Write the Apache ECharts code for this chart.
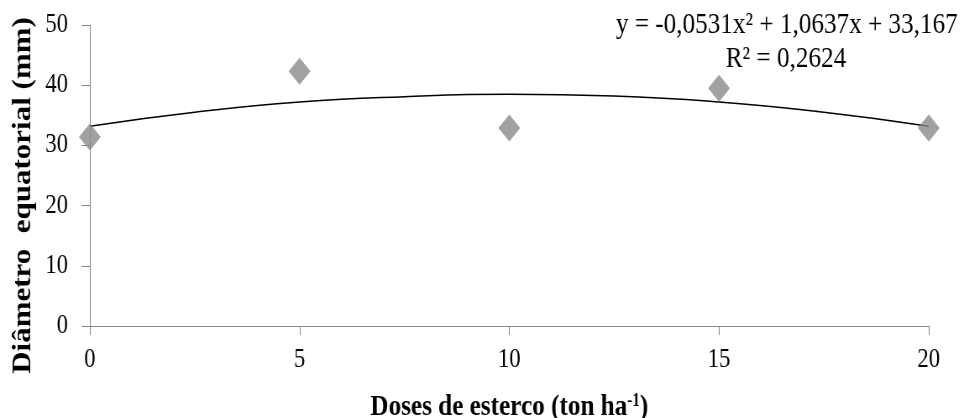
<!DOCTYPE html>
<html>
<head>
<meta charset="utf-8">
<script src="https://cdn.jsdelivr.net/npm/echarts@6/dist/echarts.min.js"></script>
<style>
	html, body { margin: 0; padding: 0; background: #fff; overflow: hidden; }
	/* the original figure is squeezed sideways, so draw wider and squeeze it */
	#chart { width: 1148px; height: 418px; transform: scaleX(0.83972); transform-origin: 0 0; }
</style>
</head>
<body>
<div id="chart"></div>
<script>
	// observed points (dose, diameter)
	var doses = [0, 5, 10, 15, 20];
	var diameter = [31.4, 42.3, 32.9, 39.5, 32.9];
	// trend line
	var trendX = [0, 2.5, 5, 7.5, 10, 12.5, 15, 17.5, 20];
	var trendY = [33.2, 35.5, 37.2, 38.1, 38.5, 38.2, 37.2, 35.5, 33.2];
	var eqText = 'y = -0,0531x² + 1,0637x + 33,167';
	var r2Text = 'R² = 0,2624';

	var font = '"Liberation Serif", "Times New Roman", serif';
	var chart = echarts.init(document.getElementById('chart'));

	var pts = [];
	for (var i = 0; i < doses.length; i++) pts.push([doses[i], diameter[i]]);
	var trend = [];
	for (var j = 0; j < trendX.length; j++) trend.push([trendX[j], trendY[j]]);

	option = {
		animation: false,
		grid: {
			left: 107,
			right: 42,
			top: 25,
			bottom: 92,
			outerBoundsMode: 'none'
		},
		xAxis: {
			type: 'value',
			min: 0,
			max: 20,
			interval: 5,
			name: 'Doses de esterco (ton ha{sup|-1})',
			nameLocation: 'middle',
			nameGap: 66,
			nameTextStyle: {
				fontFamily: font,
				fontWeight: 'bold',
				fontSize: 30,
				color: '#000',
				rich: {
					sup: { fontFamily: font, fontWeight: 'bold', fontSize: 18, color: '#000', verticalAlign: 'top', padding: [0, 0, 12, 0] }
				}
			},
			splitLine: { show: false },
			axisLine: { lineStyle: { color: '#868686' } },
			axisTick: { show: true, length: 9, lineStyle: { color: '#868686' } },
			axisLabel: { fontFamily: font, fontSize: 27, color: '#000', margin: 20 }
		},
		yAxis: {
			type: 'value',
			min: 0,
			max: 50,
			interval: 10,
			name: 'Diâmetro  equatorial (mm)',
			nameLocation: 'middle',
			nameGap: 64,
			nameTextStyle: {
				fontFamily: font,
				fontWeight: 'bold',
				fontSize: 31,
				color: '#000',
				padding: [0, 40, 0, 0]
			},
			splitLine: { show: false },
			axisLine: { show: true, lineStyle: { color: '#868686' } },
			axisTick: { show: true, length: 10, lineStyle: { color: '#868686' } },
			axisLabel: { fontFamily: font, fontSize: 27, color: '#000', margin: 26 }
		},
		series: [{
			type: 'line',
			data: trend,
			smooth: true,
			showSymbol: false,
			lineStyle: { color: '#000', width: 1.5 },
			z: 1
		}, {
			type: 'scatter',
			data: pts,
			symbol: 'diamond',
			symbolSize: [26, 27],
			itemStyle: { color: '#8a8a8a' },
			z: 2
		}],
		graphic: [{
			type: 'text',
			x: 937,
			y: 25,
			style: {
				text: eqText,
				font: '30px ' + font,
				fill: '#000',
				align: 'center',
				verticalAlign: 'middle'
			}
		}, {
			type: 'text',
			x: 936,
			y: 59,
			style: {
				text: r2Text,
				font: '30px ' + font,
				fill: '#000',
				align: 'center',
				verticalAlign: 'middle'
			}
		}]
	};
	chart.setOption(option);
</script>
</body>
</html>
